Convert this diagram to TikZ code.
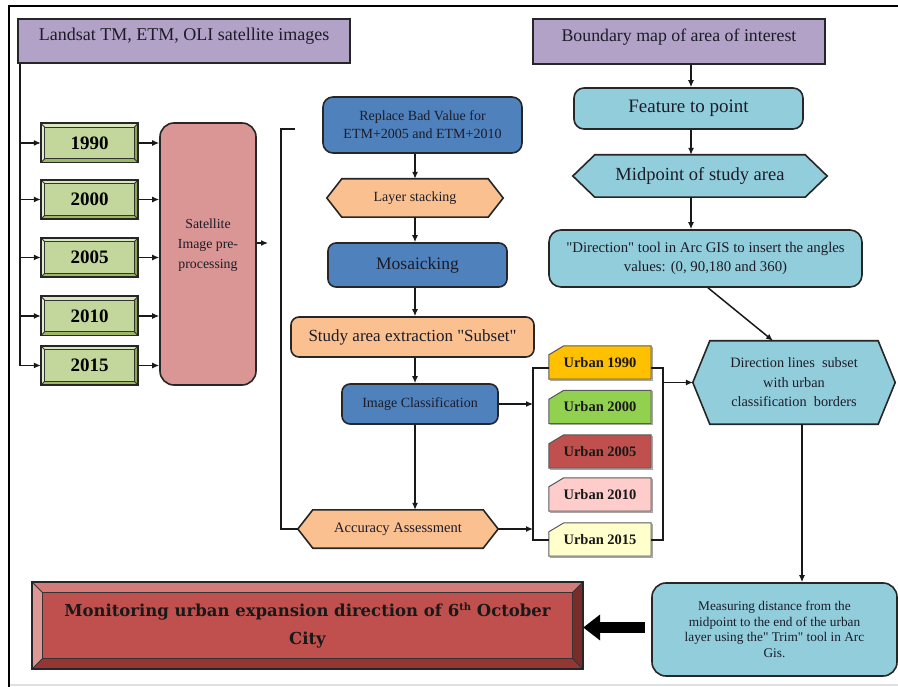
\documentclass[tikz,border=0pt]{standalone}
\usepackage{fontspec}
\setmainfont{Liberation Serif}
\newfontfamily\dvs{DejaVu Serif}
\usetikzlibrary{arrows.meta,backgrounds}
\definecolor{purp}{HTML}{B3A2C7}
\definecolor{grn}{HTML}{C3D69B}
\definecolor{grnL}{HTML}{D9E6BE}
\definecolor{grnLL}{HTML}{E3EDCF}
\definecolor{grnD}{HTML}{9DB865}
\definecolor{grnDD}{HTML}{8AA653}
\definecolor{pinkp}{HTML}{D99694}
\definecolor{blu}{HTML}{4F81BD}
\definecolor{org}{HTML}{FAC090}
\definecolor{lblu}{HTML}{92CDDC}
\definecolor{u1}{HTML}{FFC000}
\definecolor{u2}{HTML}{92D050}
\definecolor{u3}{HTML}{C0504D}
\definecolor{u4}{HTML}{FFCCCC}
\definecolor{u5}{HTML}{FFFFCC}
\definecolor{monR}{HTML}{C0504D}
\definecolor{monL}{HTML}{D47B79}
\definecolor{monLL}{HTML}{DD9896}
\definecolor{monD}{HTML}{943634}
\definecolor{monDD}{HTML}{7A2C2A}
\definecolor{txt}{HTML}{1C1C28}
\newcommand\fsz[2]{\fontsize{#1}{#2}\selectfont}
\newcommand\hexbg[3]{\filldraw[fill=#3, draw=black!85, line width=1.6pt, line join=miter]
 (#1.west) -- ([xshift=#2]#1.north west) -- ([xshift=-#2]#1.north east) -- (#1.east) -- ([xshift=-#2]#1.south east) -- ([xshift=#2]#1.south west) -- cycle;}
\newcommand\bevelbg[7]{%
 \fill[#3] (#1.south west) rectangle (#1.north east);
 \fill[#4] (#1.north west) -- (#1.north east) -- ([xshift=-#2,yshift=-#2]#1.north east) -- ([xshift=#2,yshift=-#2]#1.north west) -- cycle;
 \fill[#5] (#1.north west) -- ([xshift=#2,yshift=-#2]#1.north west) -- ([xshift=#2,yshift=#2]#1.south west) -- (#1.south west) -- cycle;
 \fill[#6] (#1.south west) -- ([xshift=#2,yshift=#2]#1.south west) -- ([xshift=-#2,yshift=#2]#1.south east) -- (#1.south east) -- cycle;
 \fill[#7] (#1.north east) -- (#1.south east) -- ([xshift=-#2,yshift=#2]#1.south east) -- ([xshift=-#2,yshift=-#2]#1.north east) -- cycle;
 \draw[line width=0.8pt, black!80] ([xshift=#2,yshift=-#2]#1.north west) rectangle ([xshift=-#2,yshift=#2]#1.south east);
 \draw[line width=0.8pt, black!80] (#1.north west) -- ([xshift=#2,yshift=-#2]#1.north west) (#1.north east) -- ([xshift=-#2,yshift=-#2]#1.north east) (#1.south west) -- ([xshift=#2,yshift=#2]#1.south west) (#1.south east) -- ([xshift=-#2,yshift=#2]#1.south east);
 \draw[line width=1.6pt, black!85] (#1.south west) rectangle (#1.north east);}
\newcommand\urbanbg[2]{\filldraw[fill=#2, draw=black!65, line width=1pt] (#1.south west) -- ([yshift=-9pt]#1.north west) -- ([xshift=15pt]#1.north west) -- (#1.north east) -- (#1.south east) -- cycle;
 \draw[black!35, line width=1pt] ([xshift=1.2pt,yshift=-1.2pt]#1.south west) -- ([xshift=1.2pt,yshift=-1.2pt]#1.south east) -- ([xshift=1.2pt,yshift=-1.2pt]#1.north east);}
\begin{document}
\begin{tikzpicture}[x=1pt,y=-1pt,
  box/.style={draw=black!85, line width=1.6pt, inner sep=0pt, align=center, text=txt},
  ghost/.style={inner sep=0pt, align=center, text=txt},
  arr/.style={-{Latex[length=7pt,width=6pt]}, line width=1.2pt, black!90},
  ln/.style={line width=1.2pt, black!90},
  yearb/.style={ghost, minimum width=97pt, minimum height=39pt, font=\fsz{19}{22}\bfseries, text=black},
  urb/.style={ghost, minimum width=102pt, minimum height=33pt, font=\fsz{14.5}{17}\bfseries, text=black!90}]
\useasboundingbox (0,0) rectangle (898,687);
% frame
\draw[black!12, line width=2pt] (10,685) -- (898,685);
\draw[line width=1.8pt] (9,687) -- (9,6) -- (898,6);
% top boxes
\node[draw=black!85, line width=1.6pt, inner sep=0pt, text=txt, fill=purp, minimum width=332pt, minimum height=44pt, text depth=13pt, font=\fsz{18}{20}] (landsat) at (184,41) {Landsat TM, ETM, OLI satellite images};
\node[draw=black!85, line width=1.6pt, inner sep=0pt, text=txt, fill=purp, minimum width=292pt, minimum height=45pt, text depth=13pt, font=\fsz{17.8}{20}] (boundary) at (679,41.5) {Boundary map of area of interest};
% year boxes
\node[yearb] (y1990) at (89.5,143) {1990};
\node[yearb] (y2000) at (89.5,199.5) {2000};
\node[yearb] (y2005) at (89.5,257.5) {2005};
\node[yearb] (y2010) at (89.5,316) {2010};
\node[yearb] (y2015) at (89.5,365.5) {2015};
% preprocessing
\node[box, fill=pinkp, rounded corners=14pt, minimum width=96pt, minimum height=262pt, font=\fsz{13.8}{20}] (prep) at (208,254) {Satellite\\Image pre-\\processing\\\mbox{}};
% middle column
\node[box, fill=blu, rounded corners=10pt, minimum width=199pt, minimum height=56pt, font=\fsz{14}{18}] (replace) at (422.5,125) {Replace Bad Value for\\ETM+2005 and ETM+2010};
\node[ghost, minimum width=176pt, minimum height=38pt, font=\fsz{14}{17}] (ls) at (415,198) {Layer stacking};
\node[box, fill=blu, rounded corners=8pt, minimum width=179pt, minimum height=44pt, font=\fsz{17.5}{20}] (mosaic) at (417.5,265) {Mosaicking};
\node[box, fill=org, rounded corners=8pt, minimum width=243pt, minimum height=40pt, font=\fsz{17}{20}] (study) at (412.5,337) {Study area extraction \textquotedbl Subset\textquotedbl};
\node[box, fill=blu, rounded corners=8pt, minimum width=156pt, minimum height=40pt, font=\fsz{14}{17}] (imgc) at (420,404) {Image Classification};
\node[ghost, minimum width=200pt, minimum height=38pt, font=\fsz{14.5}{17}] (acc) at (398,529) {Accuracy Assessment};
% urban boxes
\node[urb] (u1990) at (600,362.5) {Urban 1990};
\node[urb] (u2000) at (600,407) {Urban 2000};
\node[urb] (u2005) at (600,451.5) {Urban 2005};
\node[urb] (u2010) at (600,494.5) {Urban 2010};
\node[urb] (u2015) at (600,539.5) {Urban 2015};
% right column
\node[box, fill=lblu, rounded corners=10pt, minimum width=229pt, minimum height=41pt, font=\fsz{19}{22}] (feature) at (688.5,108.5) {Feature to point};
\node[ghost, minimum width=254pt, minimum height=42pt, font=\fsz{18.5}{22}] (mid) at (700,176) {Midpoint of study area};
\node[box, fill=lblu, rounded corners=12pt, minimum width=313pt, minimum height=57pt, font=\fsz{14.8}{19}] (dir) at (705.5,258.5) {\textquotedbl Direction\textquotedbl\ tool in Arc GIS to insert the angles\\values: (0, 90,180 and 360)};
\node[ghost, minimum width=202pt, minimum height=83pt, font=\fsz{14.3}{19.5}] (dirl) at (794,382.5) {Direction lines\enspace subset\\with urban\\classification\enspace borders};
\node[box, fill=lblu, rounded corners=14pt, minimum width=245pt, minimum height=93pt, font=\fsz{13.3}{15.5}] (meas) at (774.5,629.5) {Measuring distance from the\\midpoint to the end of the urban\\layer using the\textquotedbl\ Trim\textquotedbl\ tool in Arc\\Gis.};
\node[ghost, minimum width=551pt, minimum height=87pt, font=\dvs\fsz{16.5}{28}\bfseries, text=black!90] (mon) at (307.5,625.5) {Monitoring urban expansion direction of 6{\fsz{10}{10}\raisebox{6pt}{th}} October\\City};
% backgrounds
\begin{scope}[on background layer]
 \foreach \n in {1990,2000,2005,2010,2015}{\bevelbg{y\n}{4pt}{grn}{grnL}{grnLL}{grnD}{grnDD}}
 \bevelbg{mon}{11pt}{monR}{monL}{monLL}{monD}{monDD}
 \hexbg{ls}{15pt}{org}
 \hexbg{acc}{15pt}{org}
 \hexbg{mid}{22pt}{lblu}
 \hexbg{dirl}{17pt}{lblu}
 \urbanbg{u1990}{u1}
 \urbanbg{u2000}{u2}
 \urbanbg{u2005}{u3}
 \urbanbg{u2010}{u4}
 \urbanbg{u2015}{u5}
\end{scope}
% left bus
\coordinate (busx) at (20,0);
\draw[arr] (landsat.south -| busx) |- (y2015.west);
\foreach \n in {1990,2000,2005,2010}{\draw[arr] (busx |- y\n.west) -- (y\n.west);}
\foreach \n in {1990,2000,2005,2010,2015}{\draw[arr] (y\n.east) -- (y\n.east -| prep.west);}
\coordinate (prepout) at (268,243);
\draw[arr] (prep.east |- prepout) -- (prepout);
% bracket
\coordinate (bt) at (295,129);
\coordinate (bx) at (281,0);
\draw[ln] (bt) -- (bx |- bt) -- (bx |- acc.west) -- (acc.west);
% middle column arrows
\draw[arr] (replace.south -| ls.north) -- (ls.north);
\draw[arr] (ls.south) -- (ls.south |- mosaic.north);
\draw[arr] (mosaic.south -| ls.south) -- (ls.south |- study.north);
\draw[arr] (study.south -| ls.south) -- (ls.south |- imgc.north);
\draw[arr] (imgc.south -| ls.south) -- (ls.south |- acc.north);
% urban bracket
\coordinate (ubL) at (533,368);
\coordinate (ubR) at (663,368);
\coordinate (ubB) at (0,540);
\draw[ln] (ubL -| u1990.west) -- (ubL) -- (ubL |- ubB) -- (ubB -| u2015.west);
\draw[ln] (ubR -| u1990.east) -- (ubR) -- (ubR |- ubB) -- (ubB -| u2015.east);
\draw[arr] (imgc.east) -- (imgc.east -| ubL);
\draw[arr] (acc.east) -- (acc.east -| ubL);
\draw[arr] (ubR |- dirl.west) -- (dirl.west);
% right column arrows
\coordinate (rc) at (691,0);
\draw[arr] (boundary.south -| rc) -- (feature.north -| rc);
\draw[arr] (feature.south -| rc) -- (mid.north -| rc);
\draw[arr] (mid.south -| rc) -- (dir.north -| rc);
\draw[arr, line width=1.5pt] ([xshift=2.5pt]dir.south) -- ([xshift=-21pt]dirl.north);
\draw[arr] ([xshift=8pt]dirl.south) -- ([xshift=8pt]dirl.south |- meas.north);
\draw[line width=11pt, -{Triangle[length=17pt,width=25pt]}] ([xshift=-6pt,yshift=-2pt]meas.west |- mon.east) -- ([yshift=-2pt]mon.east);
\end{tikzpicture}
\end{document}
